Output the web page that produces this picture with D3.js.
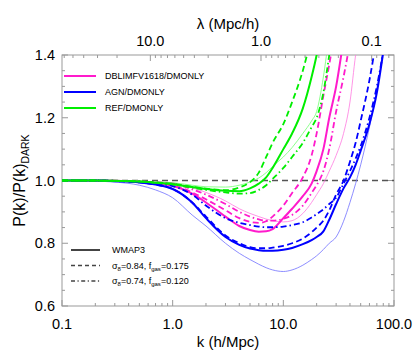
<!DOCTYPE html>
<html>
<head>
<meta charset="utf-8">
<script src="https://cdn.jsdelivr.net/npm/d3@7"></script>
<style>
    body { margin: 0; background: #fff; }
    svg { display: block; font-family: "Liberation Sans", Arial, sans-serif; }
</style>
</head>
<body>
<svg id="chart"></svg>
<script>
// k grid (h/Mpc) shared by every curve; a curve may stop early once it leaves the top
const kGrid = [0.1, 0.2, 0.3, 0.5, 0.7, 1, 1.5, 2, 3, 4, 5, 6, 7, 8, 10, 12, 15, 18, 20, 23, 26, 30, 35, 40, 45, 50, 60, 70, 80, 100];

const refWmap3 = [1.0, 1.0, 0.999, 0.997, 0.993, 0.988, 0.979, 0.973, 0.967, 0.966, 0.975, 0.99, 1.01, 1.04, 1.1, 1.15, 1.23, 1.33, 1.4, 1.52];
const refS084 = [1.0, 1.0, 0.999, 0.997, 0.994, 0.99, 0.98, 0.974, 0.969, 0.978, 0.995, 1.025, 1.075, 1.12, 1.18, 1.25, 1.35, 1.46];
const refS074 = [1.0, 1.0, 0.999, 0.997, 0.993, 0.988, 0.977, 0.97, 0.962, 0.958, 0.96, 0.97, 0.985, 1.005, 1.04, 1.075, 1.12, 1.17, 1.2, 1.28, 1.4, 1.55];
const refThin = [1.0, 1.0, 1.0, 0.998, 0.996, 0.993, 0.985, 0.98, 0.979, 0.985, 0.995, 1.008, 1.025, 1.045, 1.075, 1.105, 1.15, 1.19, 1.22, 1.33, 1.47];

const dblWmap3 = [1.0, 1.0, 0.999, 0.996, 0.992, 0.983, 0.958, 0.93, 0.885, 0.855, 0.842, 0.837, 0.838, 0.845, 0.88, 0.91, 0.95, 0.99, 1.03, 1.1, 1.2, 1.3, 1.45];
const dblS084 = [1.0, 1.0, 0.999, 0.996, 0.992, 0.985, 0.962, 0.94, 0.905, 0.88, 0.868, 0.865, 0.87, 0.885, 0.92, 0.96, 1.01, 1.08, 1.15, 1.27, 1.37, 1.5];
const dblS074 = [1.0, 1.0, 0.999, 0.997, 0.994, 0.99, 0.972, 0.955, 0.925, 0.9, 0.885, 0.876, 0.872, 0.872, 0.878, 0.89, 0.92, 0.96, 0.985, 1.03, 1.1, 1.22, 1.33, 1.44];
const dblThin = [1.0, 1.0, 1.0, 0.998, 0.995, 0.992, 0.977, 0.962, 0.935, 0.91, 0.895, 0.885, 0.877, 0.872, 0.868, 0.872, 0.895, 0.93, 0.955, 0.99, 1.03, 1.08, 1.15, 1.25, 1.4, 1.5];

const agnWmap3 = [1.0, 1.0, 0.998, 0.994, 0.987, 0.973, 0.93, 0.88, 0.82, 0.795, 0.783, 0.778, 0.776, 0.776, 0.779, 0.785, 0.797, 0.81, 0.82, 0.838, 0.875, 0.925, 0.975, 1.01, 1.05, 1.095, 1.18, 1.28, 1.41];
const agnS084 = [1.0, 1.0, 0.998, 0.994, 0.987, 0.973, 0.93, 0.885, 0.825, 0.8, 0.788, 0.784, 0.784, 0.786, 0.792, 0.8, 0.815, 0.835, 0.85, 0.872, 0.905, 0.955, 1.0, 1.06, 1.12, 1.19, 1.32, 1.46];
const agnS074 = [1.0, 1.0, 0.999, 0.996, 0.991, 0.982, 0.955, 0.92, 0.88, 0.865, 0.858, 0.853, 0.851, 0.851, 0.853, 0.858, 0.867, 0.882, 0.893, 0.908, 0.925, 0.945, 0.99, 1.03, 1.07, 1.11, 1.2, 1.3, 1.41];
const agnThin = [1.0, 0.998, 0.995, 0.985, 0.97, 0.945, 0.89, 0.855, 0.8, 0.768, 0.748, 0.733, 0.722, 0.715, 0.71, 0.715, 0.73, 0.748, 0.76, 0.78, 0.8, 0.82, 0.87, 0.93, 0.99, 1.05, 1.17, 1.29, 1.42];

const modelNames = ["DBLIMFV1618/DMONLY", "AGN/DMONLY", "REF/DMONLY"];
const modelColors = ["#ff1acc", "#0000ff", "#00ee00"];
const thinColors = ["#ff7ae0", "#7070ff", "#70ff70"];

const yTicks = [0.6, 0.8, 1.0, 1.2, 1.4];
const xTicks = [0.1, 1, 10, 100];
const lambdaTicks = [10, 1, 0.1];

const width = 415, height = 360;
const margin = { top: 55, right: 21, bottom: 54, left: 62 };
const innerW = width - margin.left - margin.right;
const innerH = height - margin.top - margin.bottom;

const svg = d3.select("#chart").attr("width", width).attr("height", height);

const x = d3.scaleLog().domain([0.1, 100]).range([0, innerW]);
const y = d3.scaleLinear().domain([0.6, 1.4]).range([innerH, 0]);

const g = svg.append("g").attr("transform", `translate(${margin.left},${margin.top})`);

g.append("clipPath").attr("id", "plotClip")
    .append("rect").attr("width", innerW).attr("height", innerH);

const axisColor = "#999";

// minor + major ticks, drawn by hand so they point inward on all sides
const minorK = [];
for (let dec = 0.1; dec < 100; dec *= 10)
    for (let m = 2; m <= 9; m++) minorK.push(+(dec * m).toPrecision(3));

const minorL = [];
for (let dec = 0.01; dec < 100; dec *= 10)
    for (let m = 2; m <= 9; m++) {
        const l = +(dec * m).toPrecision(3);
        const k = 2 * Math.PI / l;
        if (k > 0.1 && k < 100) minorL.push(l);
    }

const yMinor = d3.range(0.65, 1.4, 0.05).filter(v => !yTicks.some(t => Math.abs(t - v) < 1e-6));

const ticks = g.append("g").attr("stroke", axisColor).attr("stroke-width", 1);
// bottom
ticks.selectAll(".xb").data(xTicks.concat(minorK)).join("line")
    .attr("x1", d => x(d)).attr("x2", d => x(d))
    .attr("y1", innerH).attr("y2", d => innerH - (xTicks.includes(d) ? 6 : 3));
// top (lambda = 2pi/k)
ticks.selectAll(".xt").data(lambdaTicks.concat(minorL)).join("line")
    .attr("x1", d => x(2 * Math.PI / d)).attr("x2", d => x(2 * Math.PI / d))
    .attr("y1", 0).attr("y2", d => lambdaTicks.includes(d) ? 6 : 3);
// left + right
[0, innerW].forEach(side => {
    const dir = side === 0 ? 1 : -1;
    ticks.selectAll(null).data(yTicks.concat(yMinor)).join("line")
        .attr("x1", side).attr("x2", d => side + dir * (yTicks.some(t => Math.abs(t - d) < 1e-6) ? 6 : 3))
        .attr("y1", d => y(d)).attr("y2", d => y(d));
});

g.append("rect").attr("width", innerW).attr("height", innerH)
    .attr("fill", "none").attr("stroke", axisColor).attr("stroke-width", 1);

// tick labels
g.selectAll(".ylab").data(yTicks).join("text")
    .attr("x", -7).attr("y", d => y(d)).attr("dy", "0.36em")
    .attr("text-anchor", "end").attr("font-size", 14.5)
    .text(d => d.toFixed(1));

g.selectAll(".xlab").data(xTicks).join("text")
    .attr("x", d => x(d)).attr("y", innerH + 23)
    .attr("text-anchor", "middle").attr("font-size", 14.5)
    .text(d => d.toFixed(1));

g.selectAll(".llab").data(lambdaTicks).join("text")
    .attr("x", d => x(2 * Math.PI / d)).attr("y", -9)
    .attr("text-anchor", "middle").attr("font-size", 14.5)
    .text(d => d.toFixed(1));

svg.append("text")
    .attr("x", margin.left + innerW / 2).attr("y", 347)
    .attr("text-anchor", "middle").attr("font-size", 15)
    .text("k (h/Mpc)");

svg.append("text")
    .attr("x", margin.left + innerW / 2).attr("y", 29)
    .attr("text-anchor", "middle").attr("font-size", 15)
    .text("λ (Mpc/h)");

const yTitle = svg.append("text")
    .attr("transform", `translate(25,${margin.top + innerH / 2}) rotate(-90)`)
    .attr("text-anchor", "middle").attr("font-size", 16);
yTitle.append("tspan").text("P(k)/P(k)");
yTitle.append("tspan").attr("font-size", 10.5).attr("dy", 4).text("DARK");

// reference line
g.append("line")
    .attr("x1", 0).attr("x2", innerW).attr("y1", y(1)).attr("y2", y(1))
    .attr("stroke", "#555").attr("stroke-width", 1.5).attr("stroke-dasharray", "6,4");

const dashStyles = { solid: null, dash: "6,3.5", dashdot: "6,3,1.5,3" };

const series = [
    { values: dblThin, color: thinColors[0], w: 0.8, style: "solid" },
    { values: agnThin, color: thinColors[1], w: 0.8, style: "solid" },
    { values: refThin, color: thinColors[2], w: 0.8, style: "solid" },
    { values: dblS084, color: modelColors[0], w: 1.8, style: "dash" },
    { values: dblS074, color: modelColors[0], w: 1.8, style: "dashdot" },
    { values: dblWmap3, color: modelColors[0], w: 2, style: "solid" },
    { values: agnS084, color: modelColors[1], w: 1.8, style: "dash" },
    { values: agnS074, color: modelColors[1], w: 1.8, style: "dashdot" },
    { values: agnWmap3, color: modelColors[1], w: 2, style: "solid" },
    { values: refS084, color: modelColors[2], w: 1.8, style: "dash" },
    { values: refS074, color: modelColors[2], w: 1.8, style: "dashdot" },
    { values: refWmap3, color: modelColors[2], w: 2, style: "solid" }
];

const line = d3.line()
    .x(d => x(d[0]))
    .y(d => y(d[1]))
    .curve(d3.curveMonotoneX);

const curves = g.append("g").attr("clip-path", "url(#plotClip)");
curves.selectAll("path").data(series).join("path")
    .attr("d", s => line(s.values.map((v, i) => [kGrid[i], v])))
    .attr("fill", "none")
    .attr("stroke", s => s.color)
    .attr("stroke-width", s => s.w)
    .attr("stroke-dasharray", s => dashStyles[s.style]);

// model legend (top left)
const legTop = g.append("g").attr("font-size", 9);
modelNames.forEach((name, i) => {
    const ly = 21 + i * 16;
    legTop.append("line").attr("x1", 2).attr("x2", 34).attr("y1", ly).attr("y2", ly)
        .attr("stroke", modelColors[i]).attr("stroke-width", 2);
    legTop.append("text").attr("x", 43).attr("y", ly).attr("dy", "0.35em").text(name);
});

// cosmology legend (bottom left)
const styleLabels = [
    [["WMAP3"]],
    [["σ"], ["8", true], ["=0.84, f"], ["gas", true], ["=0.175"]],
    [["σ"], ["8", true], ["=0.74, f"], ["gas", true], ["=0.120"]]
];
const styleKeys = ["solid", "dash", "dashdot"];
const legBot = g.append("g").attr("font-size", 9);
styleKeys.forEach((st, i) => {
    const ly = 195 + i * 15.5;
    legBot.append("line").attr("x1", 9).attr("x2", 38).attr("y1", ly).attr("y2", ly)
        .attr("stroke", "#444").attr("stroke-width", st === "solid" ? 2 : 1.4)
        .attr("stroke-dasharray", dashStyles[st] ? (st === "dash" ? "4,3" : "4,2.5,1.2,2.5") : null);
    const t = legBot.append("text").attr("x", 50).attr("y", ly).attr("dy", "0.35em");
    styleLabels[i].forEach(([txt, sub]) => {
        const sp = t.append("tspan").text(txt);
        if (sub) sp.attr("font-size", 6).attr("baseline-shift", "-25%");
    });
});
</script>
</body>
</html>
